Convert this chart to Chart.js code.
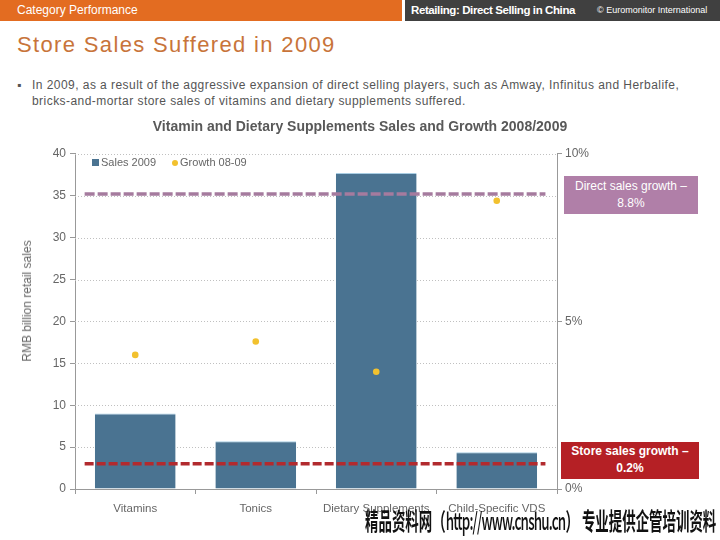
<!DOCTYPE html>
<html>
<head>
<meta charset="utf-8">
<script src="https://cdn.jsdelivr.net/npm/chart.js@4.4.1/dist/chart.umd.min.js"></script>
<style>
  body { margin: 0; width: 720px; height: 540px; position: relative; background: #fff; font-family: "Liberation Sans", Arial, sans-serif; overflow: hidden; }
  .bar-left { position: absolute; left: 0; top: 0; width: 402px; height: 21px; background: #e36c21; color: #fff; font-size: 12px; line-height: 21px; padding-left: 17px; box-sizing: border-box; }
  .bar-right { position: absolute; left: 405px; top: 0; width: 315px; height: 21px; background: #404040; color: #fff; }
  .bar-right .t1 { position: absolute; left: 6px; top: 0; font-size: 11.5px; font-weight: bold; line-height: 21px; letter-spacing: -0.4px; }
  .bar-right .t2 { position: absolute; left: 192px; top: 0; font-size: 9px; line-height: 21px; }
  h1 { position: absolute; left: 17px; top: 32px; margin: 0; font-size: 22px; font-weight: normal; color: #c8743a; letter-spacing: 1.35px; }
  .bullet { position: absolute; left: 17px; top: 77px; width: 700px; font-size: 12px; color: #555; line-height: 16px; letter-spacing: 0.45px; white-space: nowrap; }
  .bullet span { position: absolute; left: 0; top: 0; }
  .bullet p { margin: 0 0 0 15px; }
  #wrap { position: absolute; left: 0; top: 112px; width: 720px; height: 410px; }
  .ytitle { position: absolute; left: 27px; top: 301px; font-size: 12px; color: #666; white-space: nowrap; transform: translate(-50%, -50%) rotate(-90deg); }
  .legend { position: absolute; left: 92px; top: 156px; font-size: 11px; color: #666; }
  .legend .sq { display: inline-block; width: 7px; height: 7px; background: #4a7391; margin-right: 2px; }
  .legend .dot { display: inline-block; width: 6px; height: 6px; border-radius: 50%; background: #f2c12e; margin: 0 2px 0 16px; }
  .box { position: absolute; color: #fff; font-size: 12px; text-align: center; line-height: 17px; }
  .b1 { left: 564px; top: 176px; width: 134px; height: 38px; background: #b07fa8; padding-top: 2px; box-sizing: border-box; }
  .b2 { left: 561px; top: 442px; width: 138px; height: 37px; background: #b52025; font-weight: bold; padding-top: 1px; box-sizing: border-box; }
  .wm { position: absolute; left: 365px; top: 502px; font-family: "Noto Sans CJK SC", sans-serif; font-size: 24px; font-weight: bold; color: #111; white-space: nowrap; transform: scaleX(0.56); transform-origin: left top; }
  .wm .lat { letter-spacing: -1.5px; font-weight: 500; }
</style>
</head>
<body>
<div class="bar-left">Category Performance</div>
<div class="bar-right"><span class="t1">Retailing: Direct Selling in China</span><span class="t2">© Euromonitor International</span></div>
<h1>Store Sales Suffered in 2009</h1>
<div class="bullet"><span>▪</span><p>In 2009, as a result of the aggressive expansion of direct selling players, such as Amway, Infinitus and Herbalife,<br>bricks-and-mortar store sales of vitamins and dietary supplements suffered.</p></div>
<div id="wrap"><canvas id="chart" width="720" height="410"></canvas></div>
<div class="ytitle">RMB billion retail sales</div>
<div class="legend"><span class="sq"></span>Sales 2009<span class="dot"></span>Growth 08-09</div>
<div class="box b1">Direct sales growth –<br>8.8%</div>
<div class="box b2">Store sales growth –<br>0.2%</div>
<div class="wm">精品资料网（<span class="lat">http://www.cnshu.cn</span>） 专业提供企管培训资料</div>
<script>
const categories = ['Vitamins', 'Tonics', 'Dietary Supplements', 'Child-Specific VDS'];
const sales2009 = [9.0, 5.7, 37.7, 4.4];        // RMB billion
const growth0809 = [4.0, 4.4, 3.5, 8.6];        // %
const directLine = 8.8;                          // % (direct sales growth)
const storeLine = 0.75;                          // % (as drawn in the picture)
const leftTicks = [0, 40, 5];
const rightTicks = [0, 10, 5];

const ctx = document.getElementById('chart');
const chart = new Chart(ctx, {
  type: 'bar',
  data: {
    labels: categories,
    datasets: [
      {
        type: 'bar',
        label: 'Sales 2009',
        data: sales2009,
        yAxisID: 'y',
        grouped: false,
        backgroundColor: '#4a7391',
        borderColor: '#a9cde3',
        borderWidth: { top: 1, left: 0, right: 0, bottom: 0 },
        borderSkipped: false,
        categoryPercentage: 0.67, barPercentage: 1,
        order: 2
      },
      {
        type: 'line',
        label: 'Direct',
        data: [{ x: 0.02, y: directLine }, { x: 0.976, y: directLine }],
        xAxisID: 'xr', yAxisID: 'y2',
        borderColor: '#a57b9e', borderWidth: 3.5, borderDash: [10, 3],
        pointRadius: 0, order: 1
      },
      {
        type: 'line',
        label: 'Store',
        data: [{ x: 0.02, y: storeLine }, { x: 0.976, y: storeLine }],
        xAxisID: 'xr', yAxisID: 'y2',
        borderColor: '#b22a2e', borderWidth: 3.5, borderDash: [9, 3],
        pointRadius: 0, order: 1
      },
      {
        type: 'line',
        label: 'Growth 08-09',
        data: growth0809,
        yAxisID: 'y2',
        showLine: false,
        pointRadius: 3.3, pointBackgroundColor: '#f2c12e', pointBorderWidth: 0,
        order: 0
      }
    ]
  },
  options: {
    responsive: false,
    animation: false,
    layout: { padding: 0 },
    plugins: {
      legend: { display: false },
      tooltip: { enabled: false },
      title: {
        display: true,
        text: 'Vitamin and Dietary Supplements Sales and Growth 2008/2009',
        color: '#595959',
        font: { family: 'Liberation Sans', size: 14, weight: 'bold' },
        padding: { top: 7, bottom: 18 }
      }
    },
    scales: {
      x: {
        type: 'category',
        offset: true,
        grid: { display: true, drawOnChartArea: false, offset: true, tickLength: 5, color: '#999' },
        border: { display: true, color: '#999' },
        ticks: { color: '#666', font: { family: 'Liberation Sans', size: 11.5 }, padding: 8 },
        afterFit: s => { s.height = 33; }
      },
      xr: { type: 'linear', display: false, offset: false, min: 0, max: 1 },
      y: {
        position: 'left',
        min: leftTicks[0], max: leftTicks[1],
        ticks: { stepSize: leftTicks[2], color: '#666', font: { family: 'Liberation Sans', size: 12 }, padding: 4 },
        grid: { drawOnChartArea: false, tickColor: '#999', tickLength: 5 },
        border: { display: true, color: '#999' },
        afterFit: s => { s.width = 75; }
      },
      y2: {
        position: 'right',
        min: rightTicks[0], max: rightTicks[1],
        ticks: { stepSize: rightTicks[2], color: '#666', font: { family: 'Liberation Sans', size: 12 }, padding: 3, callback: v => v + '%' },
        grid: { drawOnChartArea: false, tickLength: 5, color: '#999' },
        border: { display: true, color: '#999' },
        afterFit: s => { s.width = 163; }
      }
    }
  },
  plugins: [{
    id: 'dotGrid',
    beforeDatasetsDraw(c) {
      const { ctx, chartArea, scales } = c;
      ctx.save();
      ctx.strokeStyle = '#c0c0c0';
      ctx.lineWidth = 1;
      ctx.setLineDash([1, 2]);
      scales.y.ticks.forEach(t => {
        if (t.value === 0) return;
        const yy = Math.round(scales.y.getPixelForValue(t.value)) + 0.5;
        ctx.beginPath();
        ctx.moveTo(chartArea.left, yy);
        ctx.lineTo(chartArea.right, yy);
        ctx.stroke();
      });
      ctx.restore();
    }
  }]
});
</script>
</body>
</html>
